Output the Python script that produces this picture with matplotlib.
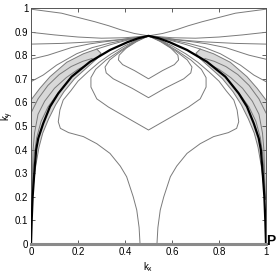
import matplotlib.pyplot as plt

plt.rcParams["font.family"] = ["Liberation Sans", "DejaVu Sans"]

# Left half of every curve (k_x <= 0.5); the right half is the mirror image.
THICK = [(0.0, 0.0), (0.003, 0.1), (0.007, 0.2), (0.014, 0.3), (0.022, 0.4),
         (0.031, 0.448), (0.052, 0.511), (0.081, 0.582), (0.116, 0.638),
         (0.173, 0.709), (0.251, 0.772), (0.336, 0.822), (0.41, 0.855),
         (0.457, 0.872), (0.5, 0.882)]

OUTER = [
    [(0.0, 0.995), (0.13, 0.978), (0.2, 0.96), (0.271, 0.942), (0.33, 0.925),
     (0.384, 0.907), (0.44, 0.892), (0.5, 0.882)],
    [(0.0, 0.897), (0.1, 0.886), (0.2, 0.877), (0.3, 0.872), (0.4, 0.874), (0.5, 0.882)],
    [(0.0, 0.847), (0.13, 0.85), (0.27, 0.857), (0.38, 0.866), (0.5, 0.882)],
    [(0.0, 0.783), (0.072, 0.80), (0.171, 0.832), (0.25, 0.848), (0.314, 0.857),
     (0.4, 0.868), (0.5, 0.882)],
    [(0.0, 0.688), (0.052, 0.716), (0.109, 0.758), (0.194, 0.806), (0.26, 0.832),
     (0.33, 0.85), (0.407, 0.866), (0.5, 0.882)],
]

BAND_OUT = [(0.0, 0.61), (0.038, 0.66), (0.081, 0.709), (0.152, 0.77),
            (0.223, 0.806), (0.28, 0.826)]
BAND_TAIL = [(0.28, 0.826), (0.34, 0.845), (0.41, 0.864), (0.5, 0.882)]
BAND_IN = [(0.28, 0.826), (0.298, 0.808), (0.28, 0.785), (0.235, 0.745),
           (0.185, 0.7), (0.14, 0.645), (0.105, 0.59), (0.075, 0.53),
           (0.05, 0.47), (0.034, 0.41), (0.02, 0.33), (0.01, 0.25), (0.004, 0.19)]

BAND_LINES = [
    [(0.0, 0.555), (0.03, 0.615), (0.072, 0.672), (0.12, 0.718), (0.171, 0.752),
     (0.22, 0.774), (0.26, 0.786)],
    [(0.003, 0.19), (0.006, 0.3), (0.009, 0.4), (0.015, 0.47), (0.03, 0.55),
     (0.058, 0.605), (0.1, 0.66), (0.15, 0.705), (0.2, 0.74), (0.23, 0.756)],
    [(0.003, 0.19), (0.008, 0.3), (0.014, 0.38), (0.024, 0.45), (0.043, 0.52),
     (0.072, 0.58), (0.105, 0.626), (0.14, 0.668)],
]

U_CURVE = [(0.5, 0.882), (0.46, 0.868), (0.4, 0.84), (0.34, 0.805), (0.29, 0.77),
           (0.243, 0.73), (0.2, 0.69), (0.17, 0.65), (0.137, 0.61), (0.123, 0.568),
           (0.116, 0.518), (0.125, 0.49), (0.16, 0.472), (0.223, 0.455),
           (0.28, 0.425), (0.336, 0.384), (0.38, 0.33), (0.407, 0.285),
           (0.435, 0.2), (0.45, 0.144), (0.46, 0.07), (0.464, 0.0)]

LOOPS = [
    [(0.5, 0.882), (0.45, 0.858), (0.405, 0.83), (0.375, 0.8), (0.372, 0.78),
     (0.39, 0.76), (0.44, 0.735), (0.5, 0.70)],
    [(0.5, 0.882), (0.44, 0.855), (0.38, 0.815), (0.335, 0.78), (0.315, 0.75),
     (0.32, 0.725), (0.35, 0.7), (0.43, 0.66), (0.5, 0.62)],
    [(0.5, 0.882), (0.44, 0.858), (0.38, 0.82), (0.32, 0.78), (0.275, 0.74),
     (0.255, 0.705), (0.255, 0.665), (0.28, 0.615), (0.33, 0.58), (0.4, 0.54),
     (0.5, 0.483)],
]

BASE_X = [0.0, 1.0]
BASE_Y = [0.0, 0.0]

X_TICKS = [0, 0.2, 0.4, 0.6, 0.8, 1]
X_LABELS = ["0", "0.2", "0.4", "0.6", "0.8", "1"]
Y_TICKS = [0, 0.1, 0.2, 0.3, 0.4, 0.5, 0.6, 0.7, 0.8, 0.9, 1]
Y_LABELS = ["0", "0.1", "0.2", "0.3", "0.4", "0.5", "0.6", "0.7", "0.8", "0.9", "1"]

THIN = dict(color="#7a7a7a", lw=0.7, zorder=2)


def xs(pts):
    return [p[0] for p in pts]


def ys(pts):
    return [p[1] for p in pts]


def mirror(pts):
    return [(1.0 - x, y) for x, y in pts]


fig = plt.figure(figsize=(2.78, 2.73), dpi=100)
ax = fig.add_axes([31 / 278, 29 / 273, 235 / 278, 236 / 273])

for side in (lambda p: p, mirror):
    band = side(BAND_OUT) + side(BAND_IN) + side([(0.0, 0.19)])
    ax.fill(xs(band), ys(band), color="#d8d8d8", lw=0, zorder=1)
    for line in OUTER + BAND_LINES + [U_CURVE]:
        pts = side(line)
        ax.plot(xs(pts), ys(pts), **THIN)
    edge = side(BAND_OUT + BAND_TAIL[1:])
    ax.plot(xs(edge), ys(edge), **THIN)
    inner = side(BAND_IN)
    ax.plot(xs(inner), ys(inner), **THIN)

for loop in LOOPS:
    pts = loop + mirror(loop)[::-1]
    ax.plot(xs(pts), ys(pts), **THIN)

arch = THICK + mirror(THICK)[::-1]
ax.plot(xs(arch), ys(arch), color="black", lw=1.6, zorder=3)
ax.plot(BASE_X, BASE_Y, color="#8a8a8a", lw=2.2, zorder=4, clip_on=False)

ax.set_xlim(0, 1)
ax.set_ylim(0, 1)
ax.set_xticks(X_TICKS, X_LABELS)
ax.set_yticks(Y_TICKS, Y_LABELS)
ax.tick_params(direction="in", length=3, width=0.6, labelsize=7, pad=2,
               top=True, right=True, color="#444444")
for s in ax.spines.values():
    s.set_linewidth(0.7)
    s.set_color("#555555")
ax.set_xlabel(r"k$_\mathregular{x}$", fontsize=7)
ax.set_ylabel(r"k$_\mathregular{y}$", fontsize=7)
ax.xaxis.set_label_coords(0.5, -0.07)
ax.yaxis.set_label_coords(-0.065, 0.545)
ax.text(1.0, -0.003, "P", fontsize=10, fontweight="bold", ha="left",
        va="baseline", clip_on=False, zorder=5)

fig.savefig("out.png", dpi=100)
